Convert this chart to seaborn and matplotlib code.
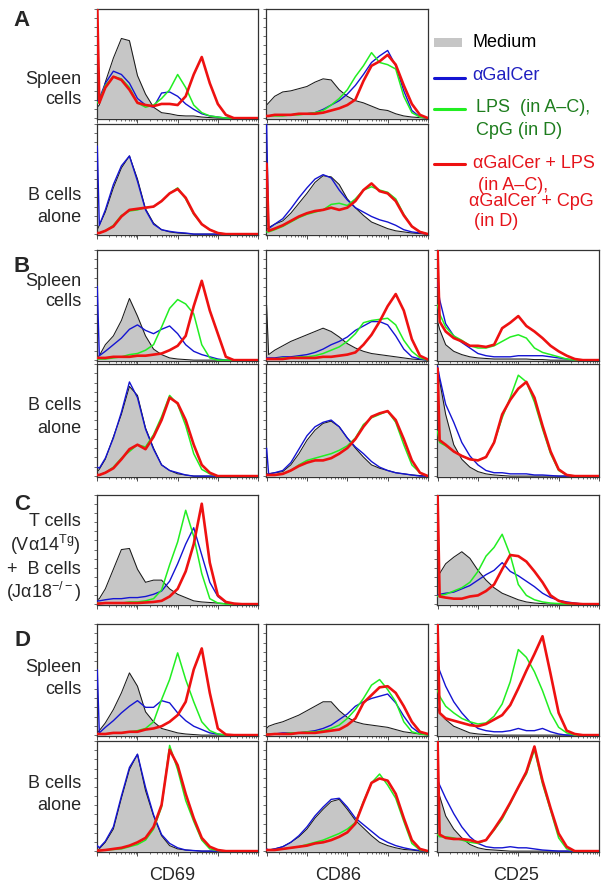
import numpy as np
import matplotlib
matplotlib.use('Agg')
import matplotlib.pyplot as plt
import seaborn as sns
from matplotlib.lines import Line2D
from matplotlib.patches import Rectangle
from matplotlib.ticker import LogLocator, NullFormatter, FixedLocator

# posiciones en décadas log10 (canal de fluorescencia)
U = [0, 0.05, 0.2, 0.4, 0.6, 0.8, 1.0, 1.2, 1.4, 1.6, 1.8,
     2.0, 2.2, 2.4, 2.6, 2.8, 3.0, 3.2, 3.4, 3.6, 3.8, 4.0]

# ---- A: Spleen cells ----
A_spl_cd69_med = [10, 12, 33, 55, 73, 71, 39, 22, 10, 5, 4, 2.5, 2, 2, 1, 0.5, 0, 0, 0, 0, 0, 0]
A_spl_cd69_agc = [15, 18, 32, 43, 40, 32, 18, 12, 10, 23, 24, 20, 13, 8, 4, 2, 1, 0, 0, 0, 0, 0]
A_spl_cd69_lps = [14, 16, 30, 38, 36, 28, 14, 10, 12, 18, 26, 40, 28, 12, 5, 2, 1, 0, 0, 0, 0, 0]
A_spl_cd69_mix = [100, 14, 28, 38, 35, 26, 14, 12, 11, 13, 13, 12, 20, 40, 56, 32, 13, 3, 0, 0, 0, 0]

A_spl_cd86_med = [12, 14, 20, 24, 25, 27, 29, 33, 36, 35, 26, 20, 16, 14, 11, 8, 7, 4, 2, 1, 0.5, 0]
A_spl_cd86_agc = [2, 2, 3, 3, 3, 4, 4, 5, 8, 12, 16, 22, 30, 40, 51, 57, 62, 48, 25, 7, 1, 0]
A_spl_cd86_lps = [2, 2, 2, 2, 3, 3, 4, 5, 7, 12, 18, 26, 38, 48, 60, 51, 49, 45, 20, 5, 1, 0]
A_spl_cd86_mix = [2, 2, 3, 3, 3, 4, 4, 4, 5, 7, 9, 12, 17, 34, 48, 52, 58, 49, 30, 13, 3, 0]

# ---- A: B cells alone ----
A_bc_cd69_med = [4, 8, 20, 42, 60, 71, 50, 23, 10, 4, 2, 1, 0.5, 0, 0, 0, 0, 0, 0, 0, 0, 0]
A_bc_cd69_agc = [80, 8, 22, 45, 62, 71, 48, 22, 9, 4, 2.5, 1.5, 1, 0, 0, 0, 0, 0, 0, 0, 0, 0]
A_bc_cd69_lps = [1, 1, 3, 8, 17, 21, 22, 24, 25, 30, 37, 42, 32, 18, 9, 4, 1, 0, 0, 0, 0, 0]
A_bc_cd69_mix = [1, 1, 3, 7, 16, 22, 23, 24, 25, 30, 37, 41, 33, 19, 9, 4, 1, 0, 0, 0, 0, 0]

A_bc_cd86_med = [4, 6, 9, 12, 19, 28, 37, 47, 53, 52, 45, 32, 24, 17, 11, 8, 5, 3, 2, 1, 0.5, 0]
A_bc_cd86_agc = [100, 5, 9, 14, 23, 33, 42, 50, 54, 51, 40, 31, 24, 20, 16, 13, 11, 8, 4, 2, 1, 0]
A_bc_cd86_lps = [2, 2, 4, 7, 11, 15, 18, 20, 22, 27, 28, 26, 32, 40, 43, 40, 38, 32, 18, 7, 2, 0]
A_bc_cd86_mix = [64, 3, 5, 8, 12, 16, 19, 21, 22, 24, 22, 24, 30, 40, 46, 39, 37, 30, 17, 7, 2, 0]

# ---- B: Spleen cells ----
B_spl_cd69_med = [3, 4, 14, 22, 36, 56, 40, 22, 10, 5, 2, 1, 0.5, 0, 0, 0, 0, 0, 0, 0, 0, 0]
B_spl_cd69_agc = [67, 4, 8, 14, 20, 28, 32, 27, 24, 28, 31, 24, 14, 8, 5, 3, 1, 0, 0, 0, 0, 0]
B_spl_cd69_lps = [1, 1, 1, 2, 3, 5, 6, 9, 14, 30, 47, 55, 51, 42, 14, 2, 0, 0, 0, 0, 0, 0]
B_spl_cd69_mix = [2, 2, 2, 3, 3, 3, 4, 4, 5, 6, 9, 13, 22, 49, 72, 45, 24, 3, 0, 0, 0, 0]

B_spl_cd86_med = [50, 5, 9, 13, 17, 20, 23, 26, 29, 26, 21, 15, 11, 8, 6, 5, 4, 3, 2, 1, 0.5, 0]
B_spl_cd86_agc = [2, 2, 2, 3, 3, 4, 5, 7, 10, 14, 17, 21, 27, 31, 35, 35, 32, 22, 10, 3, 1, 0]
B_spl_cd86_lps = [1, 1, 1, 2, 2, 3, 3, 4, 6, 9, 12, 17, 24, 34, 36, 37, 38, 32, 18, 8, 2, 0]
B_spl_cd86_mix = [1, 1, 1, 1, 2, 2, 2, 2, 3, 3, 4, 5, 7, 14, 23, 35, 49, 60, 45, 19, 4, 0.5]

B_spl_cd25_med = [35, 28, 14, 8, 5, 3, 2, 1.5, 1, 1, 1, 1, 1, 0.5, 0.5, 0, 0, 0, 0, 0, 0, 0]
B_spl_cd25_agc = [70, 55, 33, 22, 16, 11, 6, 4, 3, 3, 3, 4, 4, 4, 4, 3, 2, 1, 0, 0, 0, 0]
B_spl_cd25_lps = [50, 42, 30, 22, 18, 13, 11, 11, 13, 17, 21, 23, 20, 11, 7, 5, 3, 1, 0, 0, 0, 0]
B_spl_cd25_mix = [100, 35, 26, 20, 17, 13, 13, 12, 14, 29, 34, 40, 31, 26, 20, 13, 8, 4, 1, 0, 0, 0]

# ---- B: B cells alone ----
B_bc_cd69_med = [4, 6, 15, 35, 55, 80, 72, 43, 25, 10, 5, 2, 1, 0, 0, 0, 0, 0, 0, 0, 0, 0]
B_bc_cd69_agc = [8, 7, 16, 34, 57, 84, 70, 42, 24, 10, 5, 3, 1, 0, 0, 0, 0, 0, 0, 0, 0, 0]
B_bc_cd69_lps = [1, 1, 3, 8, 16, 22, 28, 26, 37, 53, 72, 64, 45, 20, 6, 2, 0, 0, 0, 0, 0, 0]
B_bc_cd69_mix = [1, 1, 3, 7, 15, 24, 28, 24, 35, 50, 70, 65, 50, 28, 10, 3, 0, 0, 0, 0, 0, 0]

B_bc_cd86_med = [2, 2, 3, 4, 10, 20, 32, 41, 47, 49, 44, 34, 25, 17, 10, 7, 5, 3, 2, 1, 0.5, 0]
B_bc_cd86_agc = [25, 2, 3, 5, 12, 24, 36, 44, 48, 50, 44, 34, 26, 20, 13, 8, 5, 3, 2, 1, 0, 0]
B_bc_cd86_lps = [1, 1, 1, 2, 5, 10, 14, 16, 18, 20, 23, 27, 34, 46, 52, 55, 58, 48, 28, 10, 3, 0]
B_bc_cd86_mix = [1, 1, 1, 2, 5, 9, 12, 14, 14, 16, 20, 25, 33, 44, 53, 56, 58, 50, 33, 14, 3, 0]

B_bc_cd25_med = [95, 85, 55, 28, 15, 8, 4, 2, 1, 0.5, 0, 0, 0, 0, 0, 0, 0, 0, 0, 0, 0, 0]
B_bc_cd25_agc = [98, 88, 64, 48, 30, 18, 10, 5, 3, 3, 2, 2, 2, 1, 1, 0.5, 0, 0, 0, 0, 0, 0]
B_bc_cd25_lps = [40, 30, 27, 22, 18, 15, 14, 17, 30, 52, 70, 90, 84, 66, 42, 20, 5, 1, 0, 0, 0, 0]
B_bc_cd25_mix = [96, 32, 28, 22, 18, 15, 14, 17, 30, 55, 68, 78, 84, 70, 45, 22, 6, 1, 0, 0, 0, 0]

# ---- C: T cells (Va14Tg) + B cells (Ja18-/-) ----
C_cd69_med = [4, 5, 14, 32, 50, 51, 32, 20, 22, 22, 14, 9, 6, 3, 2, 1.5, 1, 0.5, 0, 0, 0, 0]
C_cd69_agc = [3, 3, 4, 5, 5, 6, 6, 7, 9, 12, 21, 37, 55, 70, 45, 20, 7, 1.5, 0.5, 0, 0, 0]
C_cd69_lps = [1, 1, 1, 1, 1, 2, 2, 3, 5, 13, 36, 57, 86, 62, 28, 5, 1, 0, 0, 0, 0, 0]
C_cd69_mix = [0.5, 0.5, 1, 1, 1, 1, 1, 1.5, 2, 3, 7, 14, 30, 55, 92, 38, 8, 2, 0.5, 0, 0, 0]

C_cd25_med = [25, 28, 37, 43, 48, 42, 31, 22, 15, 10, 7, 4, 2, 1, 0.5, 0, 0, 0, 0, 0, 0, 0]
C_cd25_agc = [8, 9, 10, 11, 14, 17, 22, 27, 31, 38, 30, 26, 21, 16, 10, 6, 3.5, 2, 1, 0, 0, 0]
C_cd25_lps = [7, 8, 9, 12, 15, 20, 30, 44, 52, 64, 45, 18, 8, 4, 2, 1, 0.5, 0, 0, 0, 0, 0]
C_cd25_mix = [100, 7, 6, 5, 5, 7, 8, 12, 18, 32, 45, 44, 39, 30, 20, 8, 3, 1, 0.5, 0, 0, 0]

# ---- D: Spleen cells ----
D_spl_cd69_med = [2, 4, 11, 23, 38, 56, 44, 21, 12, 6, 4, 2, 1, 0.5, 0, 0, 0, 0, 0, 0, 0, 0]
D_spl_cd69_agc = [59, 2, 7, 13, 20, 26, 31, 25, 25, 31, 29, 20, 13, 8, 5, 2, 1, 0, 0, 0, 0, 0]
D_spl_cd69_lps = [1, 1, 1, 2, 2, 3, 4, 6, 12, 32, 50, 74, 50, 30, 12, 4, 1, 0, 0, 0, 0, 0]
D_spl_cd69_mix = [1, 1, 1, 2, 2, 3, 3, 5, 6, 8, 12, 18, 30, 59, 78, 38, 6, 0.5, 0, 0, 0, 0]

D_spl_cd86_med = [6, 8, 10, 12, 15, 18, 22, 26, 30, 30, 22, 16, 12, 10, 9, 8, 7, 5, 3, 2, 1, 0.5]
D_spl_cd86_agc = [1, 1, 1, 2, 2, 2, 3, 4, 6, 9, 14, 19, 26, 30, 33, 35, 37, 29, 17, 7, 1.5, 0]
D_spl_cd86_lps = [1, 1, 1, 1, 2, 2, 3, 3, 4, 6, 9, 15, 23, 33, 45, 50, 41, 30, 12, 3, 1, 0]
D_spl_cd86_mix = [0.5, 0.5, 1, 1, 1, 2, 2, 2, 3, 4, 5, 9, 15, 29, 36, 43, 44, 38, 26, 12, 3, 1]

D_spl_cd25_med = [25, 20, 14, 8, 5, 2, 1, 0.5, 0, 0, 0, 0, 0, 0, 0, 0, 0, 0, 0, 0, 0, 0]
D_spl_cd25_agc = [65, 58, 44, 30, 20, 12, 6, 4, 3, 3, 4, 6, 4, 4, 6, 3, 1, 0, 0, 0, 0, 0]
D_spl_cd25_lps = [40, 35, 26, 20, 15, 12, 10, 11, 17, 28, 48, 77, 70, 57, 40, 20, 7, 2, 0, 0, 0, 0]
D_spl_cd25_mix = [100, 20, 15, 13, 11, 9, 8, 10, 14, 18, 27, 42, 58, 73, 89, 55, 20, 4, 1, 0, 0, 0]

# ---- D: B cells alone ----
D_bc_cd69_med = [1, 2, 8, 20, 48, 74, 88, 55, 32, 14, 5, 2, 1, 0.5, 0, 0, 0, 0, 0, 0, 0, 0]
D_bc_cd69_agc = [5, 3, 9, 22, 50, 76, 88, 58, 33, 15, 7, 3, 1, 0.5, 0, 0, 0, 0, 0, 0, 0, 0]
D_bc_cd69_lps = [0.5, 0.5, 1, 1.5, 2, 4, 6, 10, 20, 40, 96, 74, 46, 27, 10, 2, 0.5, 0, 0, 0, 0, 0]
D_bc_cd69_mix = [0.5, 0.5, 1, 2, 3, 5, 8, 12, 22, 42, 92, 78, 52, 30, 12, 4, 1, 0, 0, 0, 0, 0]

D_bc_cd86_med = [1, 1, 2, 4, 8, 13, 20, 30, 38, 45, 47, 38, 28, 21, 14, 8, 5, 3, 1.5, 1, 0, 0]
D_bc_cd86_agc = [2, 1, 2, 4, 8, 14, 22, 32, 40, 47, 48, 40, 30, 24, 18, 12, 8, 5, 3, 1.5, 0.5, 0]
D_bc_cd86_lps = [1, 1, 1, 2, 3, 4, 6, 8, 10, 13, 16, 20, 26, 45, 62, 70, 60, 48, 27, 7, 1, 0]
D_bc_cd86_mix = [1, 1, 1, 2, 3, 4, 5, 7, 8, 10, 13, 17, 25, 44, 62, 66, 64, 52, 30, 10, 2, 0]

D_bc_cd25_med = [60, 50, 32, 20, 12, 6, 3, 1.5, 1, 0.5, 0, 0, 0, 0, 0, 0, 0, 0, 0, 0, 0, 0]
D_bc_cd25_agc = [65, 60, 48, 34, 22, 13, 7, 4, 3, 3, 4, 3, 3, 2, 1, 0.5, 0, 0, 0, 0, 0, 0]
D_bc_cd25_lps = [15, 13, 13, 12, 10, 8, 7, 10, 19, 29, 43, 58, 70, 92, 61, 37, 12, 2, 0, 0, 0, 0]
D_bc_cd25_mix = [100, 15, 12, 11, 11, 10, 8, 10, 20, 31, 44, 58, 72, 95, 64, 39, 16, 4, 0, 0, 0, 0]

MARKERS = ['CD69', 'CD86', 'CD25']

# ---------------------------------------------------------------
W, H = 607, 892
sns.set_style('white')
plt.rcParams['font.family'] = ['Liberation Sans', 'DejaVu Sans']
plt.rcParams['mathtext.fontset'] = 'custom'
plt.rcParams['mathtext.rm'] = 'Liberation Sans'
plt.rcParams['mathtext.it'] = 'Liberation Sans:italic'

GRAY = '#c6c6c6'
BLUE = '#1414d2'
GREEN = '#22ee22'
RED = '#ee1111'
SPINE = '#333333'

# columnas y filas en píxeles
COLS = {'CD69': (96.7, 258), 'CD86': (266, 428), 'CD25': (437, 599)}
ROWS = {'A1': (9, 119), 'A2': (124, 235), 'B1': (250, 361), 'B2': (364, 477),
        'C': (495, 605), 'D1': (624, 736), 'D2': (741, 852)}

PANELS = [
    ('A1', 'CD69', (A_spl_cd69_med, A_spl_cd69_agc, A_spl_cd69_lps, A_spl_cd69_mix)),
    ('A1', 'CD86', (A_spl_cd86_med, A_spl_cd86_agc, A_spl_cd86_lps, A_spl_cd86_mix)),
    ('A2', 'CD69', (A_bc_cd69_med, A_bc_cd69_agc, A_bc_cd69_lps, A_bc_cd69_mix)),
    ('A2', 'CD86', (A_bc_cd86_med, A_bc_cd86_agc, A_bc_cd86_lps, A_bc_cd86_mix)),
    ('B1', 'CD69', (B_spl_cd69_med, B_spl_cd69_agc, B_spl_cd69_lps, B_spl_cd69_mix)),
    ('B1', 'CD86', (B_spl_cd86_med, B_spl_cd86_agc, B_spl_cd86_lps, B_spl_cd86_mix)),
    ('B1', 'CD25', (B_spl_cd25_med, B_spl_cd25_agc, B_spl_cd25_lps, B_spl_cd25_mix)),
    ('B2', 'CD69', (B_bc_cd69_med, B_bc_cd69_agc, B_bc_cd69_lps, B_bc_cd69_mix)),
    ('B2', 'CD86', (B_bc_cd86_med, B_bc_cd86_agc, B_bc_cd86_lps, B_bc_cd86_mix)),
    ('B2', 'CD25', (B_bc_cd25_med, B_bc_cd25_agc, B_bc_cd25_lps, B_bc_cd25_mix)),
    ('C', 'CD69', (C_cd69_med, C_cd69_agc, C_cd69_lps, C_cd69_mix)),
    ('C', 'CD25', (C_cd25_med, C_cd25_agc, C_cd25_lps, C_cd25_mix)),
    ('D1', 'CD69', (D_spl_cd69_med, D_spl_cd69_agc, D_spl_cd69_lps, D_spl_cd69_mix)),
    ('D1', 'CD86', (D_spl_cd86_med, D_spl_cd86_agc, D_spl_cd86_lps, D_spl_cd86_mix)),
    ('D1', 'CD25', (D_spl_cd25_med, D_spl_cd25_agc, D_spl_cd25_lps, D_spl_cd25_mix)),
    ('D2', 'CD69', (D_bc_cd69_med, D_bc_cd69_agc, D_bc_cd69_lps, D_bc_cd69_mix)),
    ('D2', 'CD86', (D_bc_cd86_med, D_bc_cd86_agc, D_bc_cd86_lps, D_bc_cd86_mix)),
    ('D2', 'CD25', (D_bc_cd25_med, D_bc_cd25_agc, D_bc_cd25_lps, D_bc_cd25_mix)),
]

X = 10 ** np.array(U)

fig = plt.figure(figsize=(W / 100, H / 100), dpi=100)


def px_axes(x0, x1, y0, y1):
    return fig.add_axes([x0 / W, 1 - y1 / H, (x1 - x0) / W, (y1 - y0) / H])


def dibujar_panel(ax, med, agc, lps, mix):
    ax.set_xscale('log')
    ax.fill_between(X, 0, med, color=GRAY, lw=0, zorder=1)
    sns.lineplot(x=X, y=med, ax=ax, color='#1a1a1a', lw=0.75, zorder=2)
    sns.lineplot(x=X, y=agc, ax=ax, color=BLUE, lw=1.0, zorder=3)
    sns.lineplot(x=X, y=lps, ax=ax, color=GREEN, lw=1.1, zorder=4)
    sns.lineplot(x=X, y=mix, ax=ax, color=RED, lw=1.9, zorder=5)
    ax.set_xlim(10 ** -0.015, 10 ** 4)
    ax.set_ylim(-0.8, 100)
    ax.set_xlabel('')
    ax.set_ylabel('')
    for s in ax.spines.values():
        s.set_color(SPINE)
        s.set_linewidth(0.9)
    ax.xaxis.set_major_locator(LogLocator(base=10, numticks=10))
    ax.xaxis.set_minor_locator(LogLocator(base=10, subs=np.arange(2, 10), numticks=50))
    ax.xaxis.set_major_formatter(NullFormatter())
    ax.xaxis.set_minor_formatter(NullFormatter())
    ax.yaxis.set_major_locator(FixedLocator(np.linspace(0, 100, 13)))
    ax.yaxis.set_major_formatter(NullFormatter())
    ax.tick_params(axis='x', which='major', direction='out', length=3, width=0.6,
                   color=SPINE, bottom=True, top=False)
    ax.tick_params(axis='x', which='minor', direction='out', length=1.6, width=0.5,
                   color=SPINE, bottom=True, top=False)
    ax.tick_params(axis='y', which='major', direction='out', length=2, width=0.5,
                   color=SPINE, left=True, right=False)


for fila, marcador, curvas in PANELS:
    x0, x1 = COLS[marcador]
    y0, y1 = ROWS[fila]
    ax = px_axes(x0, x1, y0, y1)
    dibujar_panel(ax, *curvas)


def ftext(x, y, s, **kw):
    fig.text(x / W, 1 - y / H, s, **kw)


# letras de panel
for letra, y in [('A', 20), ('B', 266), ('C', 505), ('D', 641)]:
    ftext(22, y, letra, fontsize=16, fontweight='bold', ha='center', va='center')

# etiquetas de fila
ETIQ = [('Spleen', 80), ('cells', 100), ('B cells', 195), ('alone', 218),
        ('Spleen', 281), ('cells', 302), ('B cells', 405), ('alone', 428),
        ('T cells', 521), (r'(Vα14$^{\mathrm{Tg}}$)', 545), ('+  B cells', 569),
        (r'(Jα18$^{-/-}$)', 592),
        ('Spleen', 668), ('cells', 689), ('B cells', 783), ('alone', 806)]
for s, y in ETIQ:
    ftext(81, y, s, fontsize=13, ha='right', va='center')

# etiquetas inferiores
for m, x in zip(MARKERS, [172, 338, 516]):
    ftext(x, 876, m, fontsize=13, ha='center', va='center')

# leyenda
fig.patches.append(Rectangle((434 / W, 1 - 47 / H), 28 / W, 9 / H, transform=fig.transFigure,
                             facecolor=GRAY, edgecolor='none'))
for y, c in [(77.5, BLUE), (108.5, GREEN), (164, RED)]:
    fig.lines.append(Line2D([434 / W, 465 / W], [1 - y / H, 1 - y / H],
                            transform=fig.transFigure, color=c, lw=2.2))
DKGREEN = '#1e7d1e'
TXTRED = '#e5141b'
for x, y, s, c in [(472.7, 42.3, 'Medium', 'black'),
                   (472.7, 75, 'αGalCer', '#2020c0'),
                   (475.7, 108, 'LPS  (in A–C),', DKGREEN),
                   (475.7, 130.7, 'CpG (in D)', DKGREEN),
                   (472.7, 164, 'αGalCer + LPS', TXTRED),
                   (477.7, 185, '(in A–C),', TXTRED),
                   (469.3, 201, 'αGalCer + CpG', TXTRED),
                   (473.7, 221.7, '(in D)', TXTRED)]:
    ftext(x, y, s, fontsize=13, color=c, ha='left', va='center')

fig.savefig('out.png', dpi=100)
